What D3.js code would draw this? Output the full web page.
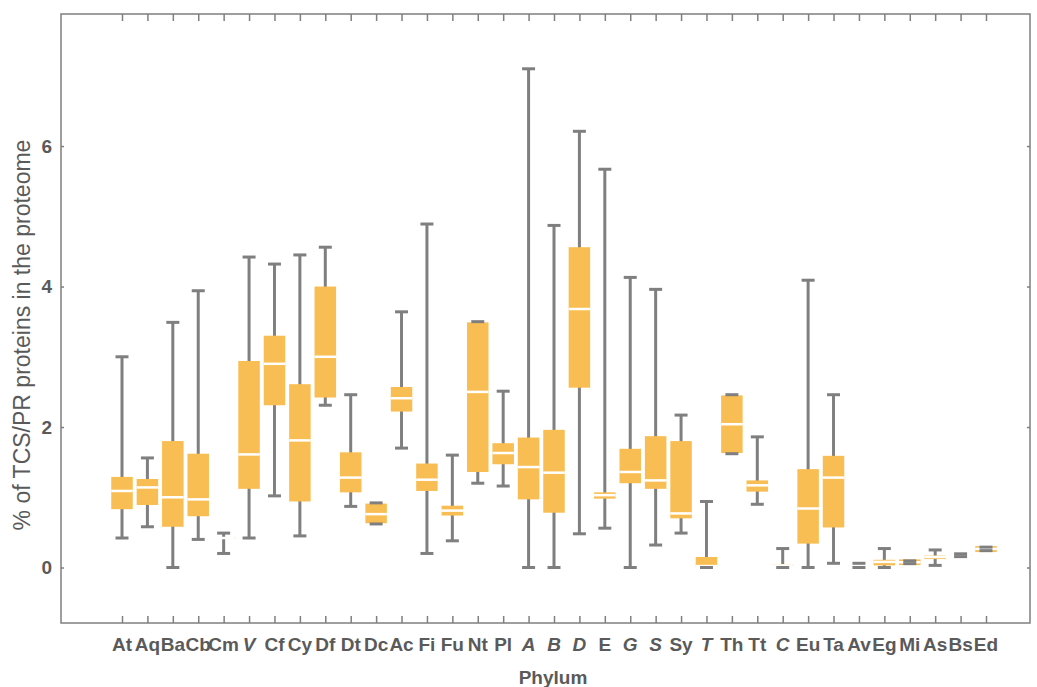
<!DOCTYPE html>
<html>
<head>
<meta charset="utf-8">
<script src="https://cdn.jsdelivr.net/npm/d3@7"></script>
<style>
  html, body { margin: 0; padding: 0; background: #fff; }
  svg { display: block; font-family: "Liberation Sans", Arial, sans-serif; }
</style>
</head>
<body>
<svg width="1037" height="687"></svg>
<script>
// phylum codes, and which ones are printed in italics
const categories = ["At","Aq","Ba","Cb","Cm","V","Cf","Cy","Df","Dt","Dc","Ac","Fi","Fu","Nt","Pl",
                    "A","B","D","E","G","S","Sy","T","Th","Tt","C","Eu","Ta","Av","Eg","Mi","As","Bs","Ed"];
const italic = ["V","A","B","D","G","S","T","C"];

// box statistics (% of TCS/PR proteins)
const whiskerLow  = [0.42,0.58,0.00,0.40,0.20,0.42,1.02,0.45,2.31,0.87,0.62,1.70,0.20,0.38,1.20,1.16,
                     0.00,0.00,0.48,0.56,0.00,0.32,0.49,0.00,1.62,0.90,0.00,0.00,0.06,0.00,0.00,0.055,0.03,0.155,0.24];
const quart1      = [0.83,0.89,0.58,0.73,0.41,1.12,2.31,0.94,2.42,1.07,0.63,2.22,1.09,0.74,1.36,1.47,
                     0.97,0.78,2.56,0.98,1.20,1.12,0.70,0.01,1.63,1.08,0.02,0.34,0.57,0.025,0.03,0.035,0.12,0.165,0.22];
const medians     = [1.09,1.14,1.00,0.97,0.42,1.61,2.90,1.81,3.00,1.28,0.76,2.41,1.25,0.81,2.50,1.63,
                     1.43,1.35,3.68,1.03,1.36,1.24,0.77,0.02,2.04,1.17,0.03,0.84,1.28,0.03,0.08,0.075,0.15,0.175,0.265];
const quart3      = [1.29,1.26,1.80,1.62,0.43,2.94,3.30,2.61,4.00,1.64,0.91,2.57,1.48,0.88,3.49,1.77,
                     1.85,1.96,4.56,1.07,1.69,1.87,1.80,0.15,2.45,1.24,0.05,1.40,1.59,0.035,0.11,0.115,0.17,0.185,0.305];
const whiskerHigh = [3.00,1.56,3.49,3.94,0.49,4.42,4.32,4.45,4.56,2.46,0.92,3.64,4.89,1.60,3.50,2.51,
                     7.10,4.87,6.21,5.67,4.13,3.96,2.17,0.94,2.46,1.86,0.27,4.09,2.46,0.06,0.27,0.095,0.25,0.195,0.29];
const yTicks = [0, 2, 4, 6];

const rows = categories.map((c, i) => ({
  name: c, lo: whiskerLow[i], q1: quart1[i], med: medians[i], q3: quart3[i], hi: whiskerHigh[i]
}));

const grey = "#7f7f7f", boxFill = "#f9be53", textCol = "#5a5a5a";
const frame = { left: 61, right: 1030, top: 14, bottom: 623 };

const x = d3.scalePoint().domain(categories).range([122, 986]);
const y = d3.scaleLinear().domain([-0.79, 7.88]).range([frame.bottom, frame.top]);

const svg = d3.select("svg");

// frame
svg.append("rect")
  .attr("x", frame.left).attr("y", frame.top)
  .attr("width", frame.right - frame.left).attr("height", frame.bottom - frame.top)
  .attr("fill", "none").attr("stroke", grey).attr("stroke-width", 1.5);

// ticks on the frame, pointing in
const bottomAxis = svg.append("g").attr("transform", `translate(0,${frame.bottom})`)
  .call(d3.axisBottom(x).tickSizeInner(-7).tickSizeOuter(0).tickFormat(""));
const topAxis = svg.append("g").attr("transform", `translate(0,${frame.top})`)
  .call(d3.axisTop(x).tickSizeInner(-7).tickSizeOuter(0).tickFormat(""));
const leftAxis = svg.append("g").attr("transform", `translate(${frame.left},0)`)
  .call(d3.axisLeft(y).tickValues(yTicks).tickSizeInner(-3).tickSizeOuter(0).tickPadding(9).tickFormat(d3.format("d")));
const rightAxis = svg.append("g").attr("transform", `translate(${frame.right},0)`)
  .call(d3.axisRight(y).tickValues(yTicks).tickSizeInner(-3).tickSizeOuter(0).tickFormat(""));
[bottomAxis, topAxis, leftAxis, rightAxis].forEach(g => {
  g.select(".domain").remove();
  g.selectAll(".tick line").attr("stroke", grey).attr("stroke-width", 1.5);
});
leftAxis.selectAll(".tick text")
  .attr("fill", textCol).attr("font-size", 19).attr("font-weight", "bold")
  .attr("font-family", "Liberation Sans, Arial, sans-serif");

// category labels
svg.append("g").selectAll("text")
  .data(categories)
  .join("text")
  .attr("x", d => x(d))
  .attr("y", 651)
  .attr("text-anchor", "middle")
  .attr("font-size", 19)
  .attr("font-weight", "bold")
  .attr("font-style", d => italic.includes(d) ? "italic" : "normal")
  .attr("fill", textCol)
  .text(d => d);

// boxes
const boxW = 21.5, capW = 13;
const g = svg.append("g").selectAll("g").data(rows).join("g");

g.append("line")
  .attr("x1", d => x(d.name)).attr("x2", d => x(d.name))
  .attr("y1", d => y(d.lo)).attr("y2", d => y(d.hi))
  .attr("stroke", grey).attr("stroke-width", 3);

g.append("rect")
  .attr("x", d => x(d.name) - boxW / 2)
  .attr("y", d => y(d.q3))
  .attr("width", boxW)
  .attr("height", d => Math.max(1, y(d.q1) - y(d.q3)))
  .attr("fill", boxFill);

g.append("line")
  .attr("x1", d => x(d.name) - boxW / 2).attr("x2", d => x(d.name) + boxW / 2)
  .attr("y1", d => y(d.med)).attr("y2", d => y(d.med))
  .attr("stroke", "#fff").attr("stroke-width", 2.5);

["lo", "hi"].forEach(k => {
  g.append("line")
    .attr("x1", d => x(d.name) - capW / 2).attr("x2", d => x(d.name) + capW / 2)
    .attr("y1", d => y(d[k])).attr("y2", d => y(d[k]))
    .attr("stroke", grey).attr("stroke-width", 3);
});

// axis titles
svg.append("text")
  .attr("x", 553).attr("y", 684)
  .attr("text-anchor", "middle")
  .attr("font-size", 19).attr("font-weight", "bold")
  .attr("fill", textCol)
  .text("Phylum");

svg.append("text")
  .attr("transform", "translate(30,335) rotate(-90)")
  .attr("text-anchor", "middle")
  .attr("font-size", 23)
  .attr("fill", textCol)
  .text("% of TCS/PR proteins in the proteome");
</script>
</body>
</html>
